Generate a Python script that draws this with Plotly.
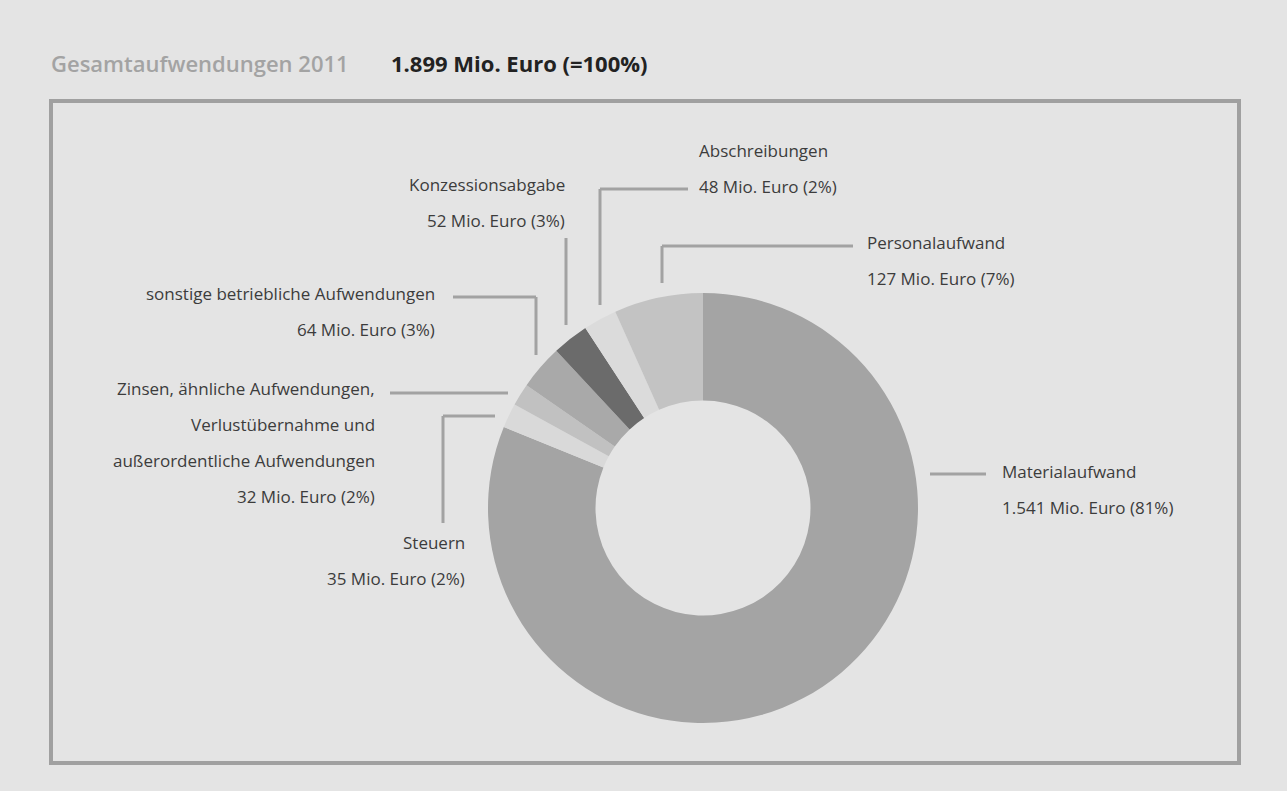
import plotly.graph_objects as go

# Aufwandsarten 2011 in Mio. Euro, im Uhrzeigersinn ab 12 Uhr
categories = [
    "Materialaufwand",
    "Steuern",
    "Zinsen, ähnliche Aufwendungen, Verlustübernahme und außerordentliche Aufwendungen",
    "sonstige betriebliche Aufwendungen",
    "Konzessionsabgabe",
    "Abschreibungen",
    "Personalaufwand",
]
values = [1541, 35, 32, 64, 52, 48, 127]
shares = [81, 2, 2, 3, 3, 2, 7]
label_lines = [
    ["Materialaufwand"],
    ["Steuern"],
    ["Zinsen, ähnliche Aufwendungen,", "Verlustübernahme und", "außerordentliche Aufwendungen"],
    ["sonstige betriebliche Aufwendungen"],
    ["Konzessionsabgabe"],
    ["Abschreibungen"],
    ["Personalaufwand"],
]
total_text = "1.899 Mio. Euro (=100%)"
title_text = "Gesamtaufwendungen 2011"

colors = ["#a4a4a4", "#d9d9d9", "#c1c1c1", "#a9a9a9", "#6b6b6b", "#dbdbdb", "#c3c3c3"]

W, H = 1287, 791
BG = "#e4e4e4"
LINE = "#a2a2a2"
TEXT = "#3c3c3c"
FONT = "Open Sans"


def px(x):
    return x / W


def py(y):
    return 1 - y / H


def fmt_value(v):
    return f"{v:,}".replace(",", ".")


# donut geometry (pixels)
cx, cy, r = 703, 508, 215

fig = go.Figure(
    go.Pie(
        labels=categories,
        values=values,
        sort=False,
        direction="clockwise",
        rotation=0,
        hole=0.5,
        marker=dict(colors=colors, line=dict(width=0)),
        textinfo="none",
        hoverinfo="label+value",
        showlegend=False,
        domain=dict(x=[px(cx - r), px(cx + r)], y=[py(cy + r), py(cy - r)]),
    )
)

# label placement: (x anchor px, first line y px, alignment)
label_pos = [
    (1000, 471, "left"),
    (467, 542, "right"),
    (377, 388, "right"),
    (437, 293, "right"),
    (567, 185, "right"),
    (697, 150, "left"),
    (865, 243, "left"),
]
line_gap = 36

annotations = []
for lines, v, pct, (ax, ay, side) in zip(label_lines, values, shares, label_pos):
    texts = lines + [f"{fmt_value(v)} Mio. Euro ({pct}%)"]
    for i, t in enumerate(texts):
        annotations.append(
            dict(
                text=t,
                x=px(ax),
                y=py(ay + i * line_gap),
                xref="paper",
                yref="paper",
                xanchor=side,
                yanchor="middle",
                showarrow=False,
                font=dict(family=FONT, size=17, color=TEXT),
            )
        )

# heading
annotations.append(
    dict(
        text=title_text,
        x=px(49), y=py(63), xref="paper", yref="paper",
        xanchor="left", yanchor="middle", showarrow=False,
        font=dict(family=FONT, size=22, color="#a3a3a3", weight=600),
    )
)
annotations.append(
    dict(
        text=total_text,
        x=px(389), y=py(63), xref="paper", yref="paper",
        xanchor="left", yanchor="middle", showarrow=False,
        font=dict(family=FONT, size=22, color="#222222", weight=700),
    )
)

# leader lines (pixel polylines)
leaders = [
    [(930, 474), (986, 474)],
    [(443, 523), (443, 416), (495, 416)],
    [(390, 393), (508, 393)],
    [(453, 297), (536, 297), (536, 355)],
    [(566, 238), (566, 325)],
    [(688, 189), (600, 189), (600, 305)],
    [(853, 246), (662, 246), (662, 283)],
]

shapes = []
for pts in leaders:
    for (x0, y0), (x1, y1) in zip(pts[:-1], pts[1:]):
        shapes.append(
            dict(
                type="line", xref="paper", yref="paper",
                x0=px(x0), y0=py(y0), x1=px(x1), y1=py(y1),
                line=dict(color=LINE, width=3),
            )
        )

# frame around the chart
shapes.append(
    dict(
        type="rect", xref="paper", yref="paper",
        x0=px(51), y0=py(763), x1=px(1239), y1=py(101),
        line=dict(color="#a0a0a0", width=4),
        fillcolor="rgba(0,0,0,0)", layer="below",
    )
)

fig.update_layout(
    width=W,
    height=H,
    margin=dict(l=0, r=0, t=0, b=0),
    paper_bgcolor=BG,
    plot_bgcolor=BG,
    annotations=annotations,
    shapes=shapes,
    font=dict(family=FONT),
)

fig.write_html("out.html")
